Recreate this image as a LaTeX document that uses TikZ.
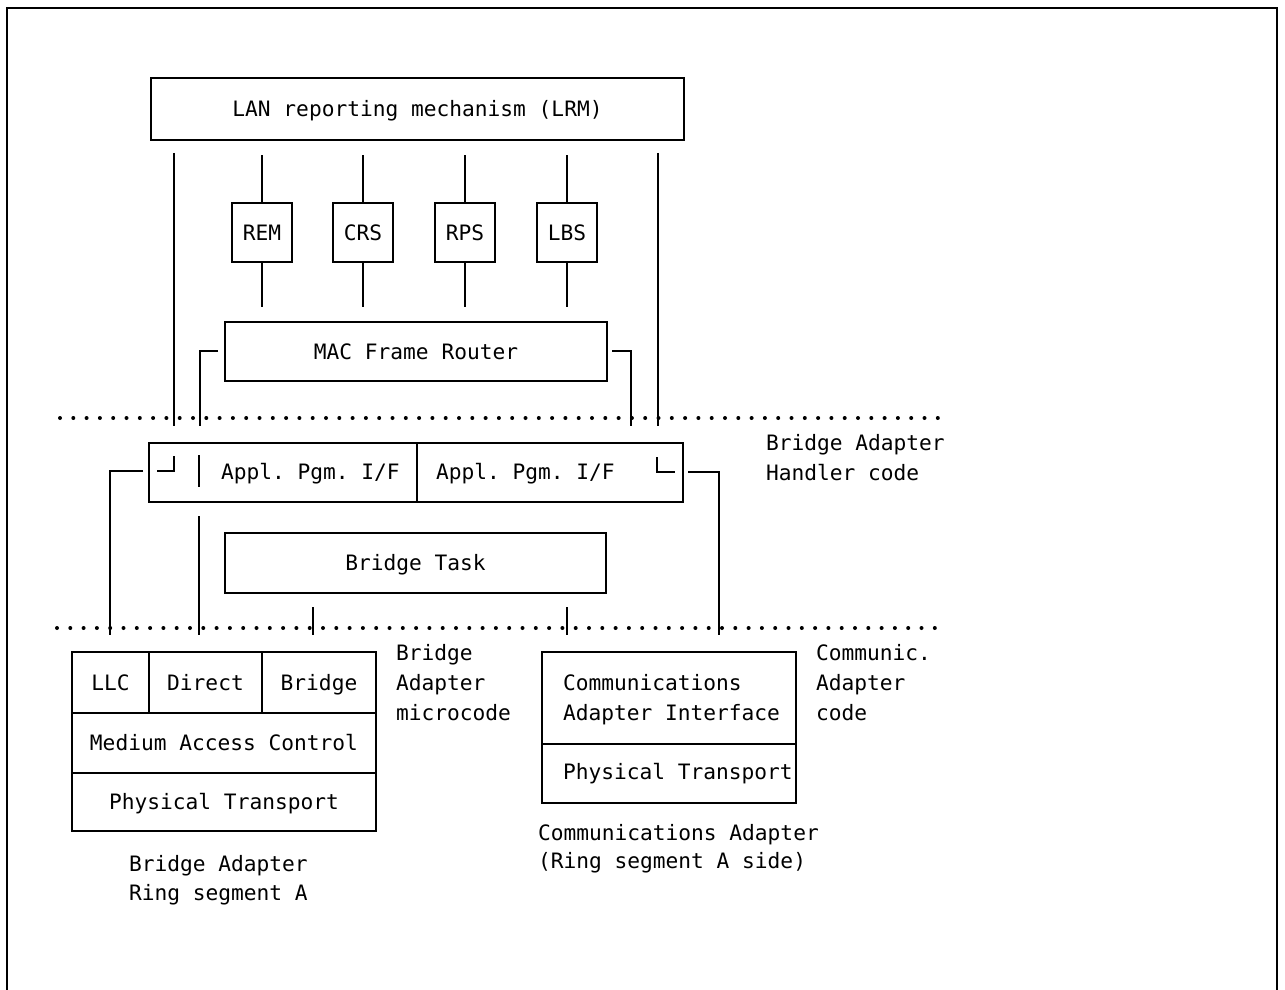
\documentclass[tikz,border=0pt]{standalone}
\usepackage{fontspec}
\setmonofont{DejaVu Sans Mono}
\begin{document}
\begin{tikzpicture}[x=0.5pt,y=-0.5pt,line width=1pt,
  txt/.style={font=\ttfamily\fontsize{10.6}{15.5}\selectfont,inner sep=0pt},
  lbl/.style={txt,anchor=base west},
  box/.style={txt,draw,line width=1pt,anchor=north west,text height=7.8pt,text depth=0pt},
  wh/.style 2 args={minimum width=#1*0.5pt,minimum height=#2*0.5pt},
  dotline/.style={line width=2pt,line cap=round,dash pattern=on 0pt off 6.65pt}]
\useasboundingbox (0,0) rectangle (1285,990);
% frame
\coordinate (f1) at (7,995); \coordinate (f2) at (7,8);
\coordinate (f3) at (1277,8); \coordinate (f4) at (1277,995);
\draw (f1) -- (f2) -- (f3) -- (f4);
% top boxes
\node[box,wh={533}{62}] (lrm) at (150,77) {LAN reporting mechanism (LRM)};
\node[box,wh={60}{59},anchor=north] (rem) at (262,202) {REM};
\node[box,wh={60}{59},anchor=north] (crs) at (363,202) {CRS};
\node[box,wh={60}{59},anchor=north] (rps) at (465,202) {RPS};
\node[box,wh={60}{59},anchor=north] (lbs) at (567,202) {LBS};
\node[box,wh={382}{59}] (mac) at (224,321) {MAC Frame Router};
\coordinate (ytop) at (0,155);
\coordinate (ybot) at (0,307);
\foreach \n in {rem,crs,rps,lbs}{
  \draw (\n.north) -- (\n.north |- ytop);
  \draw (\n.south) -- (\n.south |- ybot);
}
% long lines
\coordinate (la1) at (174,153); \coordinate (la2) at (174,426);
\coordinate (lb1) at (658,153); \coordinate (lb2) at (658,426);
\draw (la1) -- (la2);
\draw (lb1) -- (lb2);
% MAC brackets
\coordinate (ma1) at (218,351); \coordinate (ma2) at (200,351); \coordinate (ma3) at (200,426);
\coordinate (mb1) at (612,351); \coordinate (mb2) at (631,351); \coordinate (mb3) at (631,426);
\draw (ma1) -- (ma2) -- (ma3);
\draw (mb1) -- (mb2) -- (mb3);
% dotted lines
\coordinate (d1a) at (60,418); \coordinate (d1b) at (942,418);
\coordinate (d2a) at (57,628); \coordinate (d2b) at (942,628);
\draw[dotline] (d1a) -- (d1b);
\draw[dotline] (d2a) -- (d2b);
% Appl box
\node[box,wh={268}{59}] (ap1) at (148,442) {};
\node[box,wh={266}{59}] (ap2) at (416,442) {};
\node[lbl] (ap1t) at (220,479) {Appl. Pgm. I/F};
\node[lbl] (ap2t) at (435,479) {Appl. Pgm. I/F};
\coordinate (ka1) at (157,471); \coordinate (ka2) at (174,471); \coordinate (ka3) at (174,456);
\draw (ka1) -- (ka2) -- (ka3);
\coordinate (kb1) at (657,457); \coordinate (kb2) at (657,472); \coordinate (kb3) at (675,472);
\draw (kb1) -- (kb2) -- (kb3);
\coordinate (bar1) at (199,455); \coordinate (bar2) at (199,487);
\draw (bar1) -- (bar2);
\coordinate (oa1) at (143,471); \coordinate (oa2) at (110,471); \coordinate (oa3) at (110,635);
\draw (oa1) -- (oa2) -- (oa3);
\coordinate (ob1) at (688,472); \coordinate (ob2) at (719,472); \coordinate (ob3) at (719,635);
\draw (ob1) -- (ob2) -- (ob3);
\coordinate (ua1) at (199,516); \coordinate (ua2) at (199,635);
\draw (ua1) -- (ua2);
% Bridge task
\node[box,wh={381}{60}] (bt) at (224,532) {Bridge Task};
\coordinate (t1a) at (313,607); \coordinate (t1b) at (313,635);
\coordinate (t2a) at (567,607); \coordinate (t2b) at (567,635);
\draw (t1a) -- (t1b);
\draw (t2a) -- (t2b);
\node[lbl] (bah1) at (765,450) {Bridge Adapter};
\node[lbl] (bah2) at (765,480) {Handler code};
% Bridge adapter box
\node[box,wh={77}{61}] (llc) at (71,651) {LLC};
\node[box,wh={113}{61}] (dir) at (148,651) {Direct};
\node[box,wh={114}{61}] (brg) at (261,651) {Bridge};
\node[box,wh={304}{60}] (mac2) at (71,712) {Medium Access Control};
\node[box,wh={304}{58}] (phy1) at (71,772) {Physical Transport};
\node[lbl] (bam1) at (395,660) {Bridge};
\node[lbl] (bam2) at (395,690) {Adapter};
\node[lbl] (bam3) at (395,720) {microcode};
\node[lbl] (bar1t) at (128,871) {Bridge Adapter};
\node[lbl] (bar2t) at (128,900) {Ring segment A};
% Communications adapter box
\node[box,wh={254}{92}] (cai) at (541,651) {};
\node[box,wh={254}{59}] (phy2) at (541,743) {};
\node[lbl] (cai1) at (562,690) {Communications};
\node[lbl] (cai2) at (562,720) {Adapter Interface};
\node[lbl] (phy2t) at (562,779) {Physical Transport};
\node[lbl] (cac1) at (815,660) {Communic.};
\node[lbl] (cac2) at (815,690) {Adapter};
\node[lbl] (cac3) at (815,720) {code};
\node[lbl] (ca1) at (537,840) {Communications Adapter};
\node[lbl] (ca2) at (537,868) {(Ring segment A side)};
\end{tikzpicture}
\end{document}
